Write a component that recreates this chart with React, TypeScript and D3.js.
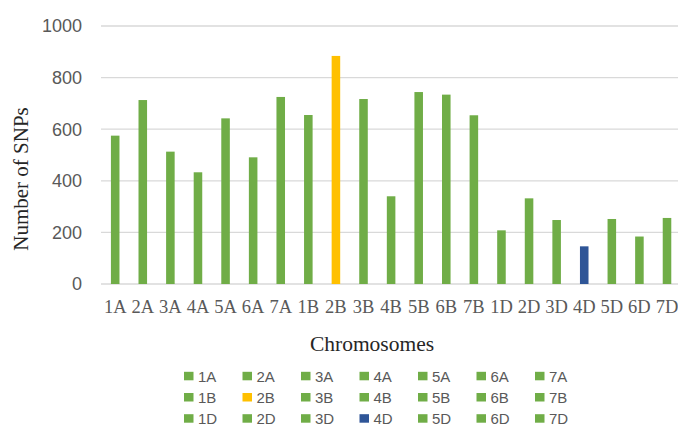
import React from "react";
import * as d3 from "d3";

const categories = ["1A","2A","3A","4A","5A","6A","7A","1B","2B","3B","4B","5B","6B","7B","1D","2D","3D","4D","5D","6D","7D"];
const snpCounts = [575,713,513,433,642,491,725,655,884,717,340,744,734,654,208,332,248,146,252,184,256];
const barColors = ["#70AD47","#70AD47","#70AD47","#70AD47","#70AD47","#70AD47","#70AD47","#70AD47","#FFC000","#70AD47","#70AD47","#70AD47","#70AD47","#70AD47","#70AD47","#70AD47","#70AD47","#2F5597","#70AD47","#70AD47","#70AD47"];
const yTicks = [0,200,400,600,800,1000];

const W = 678, H = 426;

export default function App() {
  const x = d3.scaleBand<string>().domain(categories).range([101.4, 680.8]).paddingInner(0.69).paddingOuter(0.345);
  const y = d3.scaleLinear().domain([0, 1000]).range([284, 26]);
  const sans = "'Liberation Sans', Arial, sans-serif";
  const serif = "'Liberation Serif', 'Times New Roman', serif";
  const legendCol = (i: number) => 184 + i * 58.5;
  const legendRow = [376.3, 397.5, 418.7];
  return (
    <svg width={W} height={H} style={{ position: "absolute", left: 0, top: 0, background: "#fff" }}>
      <rect width={W} height={H} fill="#fff" />
      {yTicks.map((t) => (
        <g key={t}>
          <line x1={101} x2={W} y1={y(t)} y2={y(t)} stroke="#D9D9D9" strokeWidth={1.3} />
          <text x={82} y={y(t)} dy="0.35em" textAnchor="end" fontFamily={sans} fontSize={18} fill="#595959">{t}</text>
        </g>
      ))}
      {categories.map((c, i) => (
        <rect key={c} x={x(c)} y={y(snpCounts[i])} width={x.bandwidth()} height={y(0) - y(snpCounts[i])} fill={barColors[i]} />
      ))}
      {categories.map((c) => (
        <text key={c} x={(x(c) as number) + x.bandwidth() / 2} y={307} dy="0.35em" textAnchor="middle" fontFamily={serif} fontSize={18.5} fill="#595959">{c}</text>
      ))}
      <text x={372} y={343} dy="0.35em" textAnchor="middle" fontFamily={serif} fontSize={21.5} fill="#262626">Chromosomes</text>
      <text transform={`translate(21,179) rotate(-90)`} dy="0.35em" textAnchor="middle" fontFamily={serif} fontSize={21} fill="#262626">Number of SNPs</text>
      {categories.map((c, i) => {
        const row = Math.floor(i / 7);
        const col = i % 7;
        const lx = legendCol(col);
        const ly = legendRow[row];
        return (
          <g key={c}>
            <rect x={lx} y={ly - 4.5} width={9.5} height={8.5} fill={barColors[i]} />
            <text x={lx + 14} y={ly} dy="0.35em" fontFamily={sans} fontSize={15} fill="#595959">{c}</text>
          </g>
        );
      })}
    </svg>
  );
}
